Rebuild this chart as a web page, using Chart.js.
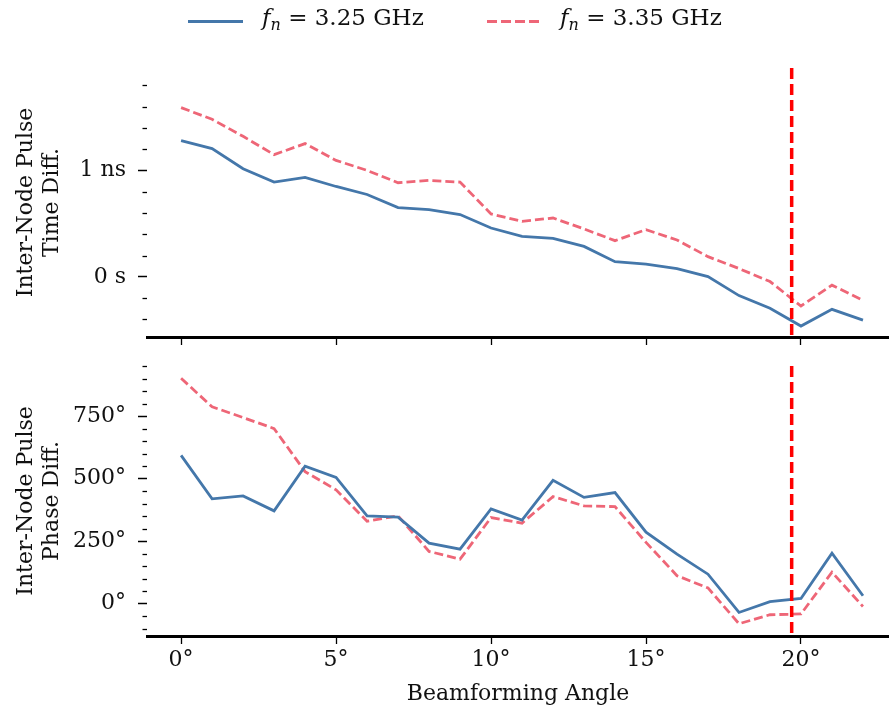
<!DOCTYPE html>
<html>
<head>
<meta charset="utf-8">
<script src="https://cdn.jsdelivr.net/npm/chart.js@4.4.0/dist/chart.umd.min.js"></script>
<style>
  body { margin: 0; background: #fff; width: 889px; height: 718px; position: relative; overflow: hidden; font-family: "DejaVu Serif", serif; }
  #topWrap { position: absolute; left: 0; top: 0; width: 889px; height: 345px; }
  #botWrap { position: absolute; left: 0; top: 345px; width: 889px; height: 373px; }
  .legend { position: absolute; top: 3px; left: 0; width: 889px; height: 34px; font-size: 23px; color: #111; }
  .item { position: absolute; top: 1px; white-space: nowrap; }
  .swatch { position: absolute; top: 17px; width: 55px; height: 3px; }
  .solid { background: #4477AA; }
  .dash { background: repeating-linear-gradient(90deg, #EE6677 0 10px, transparent 10px 14px); }
  sub { font-size: 16px; vertical-align: -5px; font-style: italic; }
</style>
</head>
<body>
<div id="topWrap"><canvas id="timeCanvas"></canvas></div>
<div id="botWrap"><canvas id="phaseCanvas"></canvas></div>
<div class="legend">
  <div class="swatch solid" style="left:188px"></div>
  <div class="item" style="left:262px"><i>f</i><sub>n</sub> = 3.25 GHz</div>
  <div class="swatch dash" style="left:487px"></div>
  <div class="item" style="left:560px"><i>f</i><sub>n</sub> = 3.35 GHz</div>
</div>
<script>
var angles = [0, 1, 2, 3, 4, 5, 6, 7, 8, 9, 10, 11, 12, 13, 14, 15, 16, 17, 18, 19, 20, 21, 22];

// time difference in ns
var time325 = [1.28, 1.205, 1.016, 0.89, 0.934, 0.849, 0.774, 0.651, 0.632, 0.585, 0.459, 0.38, 0.361, 0.286, 0.142, 0.12, 0.078, 0.003, -0.176, -0.295, -0.462, -0.305, -0.406];
var time335 = [1.59, 1.48, 1.32, 1.148, 1.252, 1.094, 1.0, 0.884, 0.906, 0.89, 0.591, 0.522, 0.553, 0.45, 0.34, 0.443, 0.346, 0.19, 0.078, -0.044, -0.274, -0.078, -0.22];

// phase difference in degrees
var phase325 = [593, 419, 431, 371, 550, 505, 351, 346, 242, 218, 379, 334, 493, 425, 444, 286, 198, 118, -35, 8, 21, 202, 32];
var phase335 = [901, 787, 744, 700, 528, 455, 330, 351, 209, 178, 344, 322, 428, 391, 388, 245, 112, 63, -80, -44, -41, 126, -11];

var angleTicks = [0, 5, 10, 15, 20];
var angleTickLabels = ["0°", "5°", "10°", "15°", "20°"];
var timeTicks = [0, 1];
var timeTickLabels = ["0 s", "1 ns"];
var phaseTicks = [0, 250, 500, 750];
var phaseTickLabels = ["0°", "250°", "500°", "750°"];

var cutoffAngle = 19.7;
var blue = "#4477AA", red = "#EE6677";
var fontFam = "'DejaVu Serif', serif";

function pts(vals) {
  return angles.map(function(a, i) { return {x: a, y: vals[i]}; });
}

// minor ticks on the y axis + the red cutoff line
var extras = {
  id: "extras",
  afterDatasetsDraw: function(chart, args, opts) {
    var ctx = chart.ctx, y = chart.scales.y, x = chart.scales.x, area = chart.chartArea;
    ctx.save();
    ctx.strokeStyle = "#000";
    ctx.lineWidth = 1.3;
    var start = Math.ceil(y.min / opts.minorStep) * opts.minorStep;
    for (var v = start; v <= y.max + 1e-9; v += opts.minorStep) {
      var isMajor = opts.major.some(function(m) { return Math.abs(m - v) < 1e-6; });
      if (isMajor) continue;
      var py = Math.round(y.getPixelForValue(v)) + 0.5;
      ctx.beginPath();
      ctx.moveTo(area.left - 4.5, py);
      ctx.lineTo(area.left, py);
      ctx.stroke();
    }
    var px = x.getPixelForValue(cutoffAngle);
    ctx.strokeStyle = "#ff0000";
    ctx.lineWidth = 3.5;
    ctx.setLineDash([11, 5]);
    ctx.beginPath();
    ctx.moveTo(px, area.top);
    ctx.lineTo(px, area.bottom);
    ctx.stroke();
    ctx.restore();
  }
};

function makeChart(id, d1, d2, yMin, yMax, yTicks, yTickLabels, minorStep, title2, padTop, xHeight, bottomAxis) {
  return new Chart(id, {
    type: "line",
    data: {
      datasets: [{
        label: "f_n = 3.25 GHz",
        data: pts(d1),
        borderColor: blue,
        borderWidth: 2.8,
        pointRadius: 0,
        tension: 0
      }, {
        label: "f_n = 3.35 GHz",
        data: pts(d2),
        borderColor: red,
        borderWidth: 2.8,
        borderDash: [9, 4],
        pointRadius: 0,
        tension: 0
      }]
    },
    options: {
      responsive: true,
      maintainAspectRatio: false,
      animation: false,
      layout: {padding: {top: padTop, left: 0, right: 0, bottom: 0}},
      plugins: {
        legend: {display: false},
        tooltip: {enabled: false},
        extras: {minorStep: minorStep, major: yTicks}
      },
      scales: {
        x: {
          type: "linear",
          min: -1.1,
          max: 22.84,
          afterFit: function(s) { s.height = xHeight; s.paddingLeft = 0; s.paddingRight = 0; },
          afterBuildTicks: function(s) { s.ticks = angleTicks.map(function(v) { return {value: v}; }); },
          grid: {drawOnChartArea: false, drawTicks: true, tickLength: 8, tickColor: "#000", tickWidth: 1.3},
          border: {display: true, color: "#000", width: 3},
          ticks: {
            display: bottomAxis,
            padding: 3,
            color: "#111",
            font: {family: fontFam, size: 22},
            maxRotation: 0,
            callback: function(v) { return angleTickLabels[angleTicks.indexOf(v)]; }
          },
          title: {
            display: bottomAxis,
            text: "Beamforming Angle",
            color: "#111",
            font: {family: fontFam, size: 22},
            padding: {top: 0, bottom: 11}
          }
        },
        y: {
          min: yMin,
          max: yMax,
          afterFit: function(s) { s.width = 147; s.paddingTop = 0; s.paddingBottom = 0; },
          afterBuildTicks: function(s) { s.ticks = yTicks.map(function(v) { return {value: v}; }); },
          grid: {drawOnChartArea: false, drawTicks: true, tickLength: 9, tickColor: "#000", tickWidth: 1.5},
          border: {display: false},
          ticks: {
            padding: 12,
            color: "#111",
            font: {family: fontFam, size: 22},
            callback: function(v) { return yTickLabels[yTicks.indexOf(v)]; }
          },
          title: {
            display: true,
            text: ["Inter-Node Pulse", title2],
            color: "#111",
            font: {family: fontFam, size: 22, lineHeight: 1.2},
            padding: {top: 13, bottom: 0}
          }
        }
      }
    },
    plugins: [extras]
  });
}

makeChart("timeCanvas", time325, time335, -0.565, 1.962, timeTicks, timeTickLabels, 0.2, "Time Diff.", 68, 8, false);
makeChart("phaseCanvas", phase325, phase335, -129, 950, phaseTicks, phaseTickLabels, 50, "Phase Diff.", 21, 82, true);
</script>
</body>
</html>
